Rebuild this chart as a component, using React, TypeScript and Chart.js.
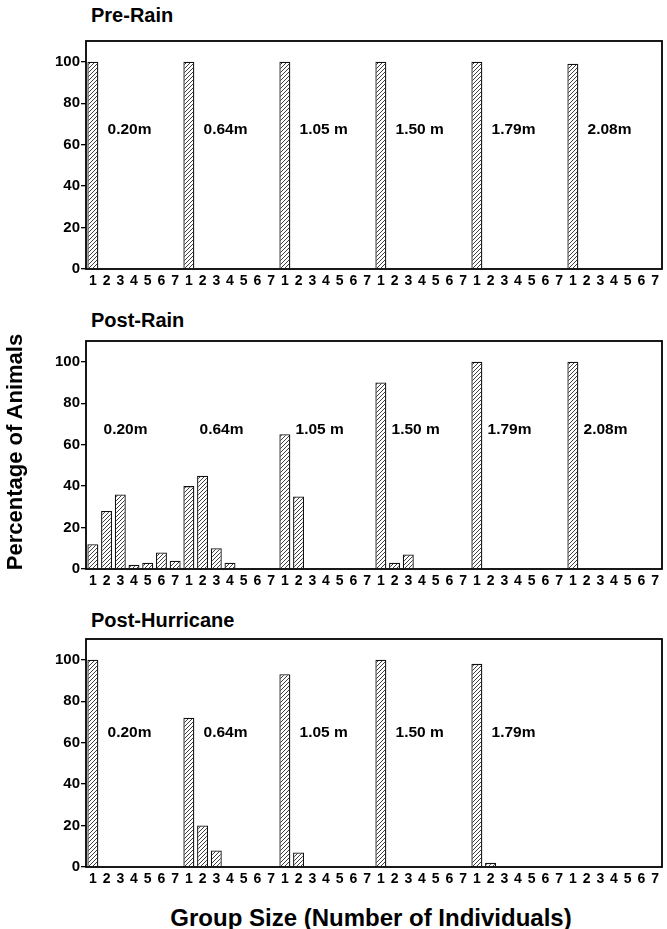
import React, { useEffect, useRef } from "react";
import { Chart, registerables } from "chart.js";

Chart.register(...registerables);

const FONT = '"Liberation Sans", Arial, Helvetica, sans-serif';

// Group sizes (x tick labels), repeated for each depth
const groupSizes = ["1", "2", "3", "4", "5", "6", "7"];
const depths = ["0.20m", "0.64m", "1.05 m", "1.50 m", "1.79m", "2.08m"];
const categories = depths.flatMap(() => groupSizes);
const yTicks = [0, 20, 40, 60, 80, 100];

// Percentage of animals per group size, depth after depth
const preRain = [
  100, 0, 0, 0, 0, 0, 0,
  100, 0, 0, 0, 0, 0, 0,
  100, 0, 0, 0, 0, 0, 0,
  100, 0, 0, 0, 0, 0, 0,
  100, 0, 0, 0, 0, 0, 0,
  99, 0, 0, 0, 0, 0, 0,
];
const postRain = [
  12, 28, 36, 2, 3, 8, 4,
  40, 45, 10, 3, 0, 0, 0,
  65, 35, 0, 0, 0, 0, 0,
  90, 3, 7, 0, 0, 0, 0,
  100, 0, 0, 0, 0, 0, 0,
  100, 0, 0, 0, 0, 0, 0,
];
const postHurricane = [
  100, 0, 0, 0, 0, 0, 0,
  72, 20, 8, 0, 0, 0, 0,
  93, 7, 0, 0, 0, 0, 0,
  100, 0, 0, 0, 0, 0, 0,
  98, 2, 0, 0, 0, 0, 0,
  0, 0, 0, 0, 0, 0, 0,
];

const preRainDepths = depths;
const postRainDepths = depths;
const postHurricaneDepths = ["0.20m", "0.64m", "1.05 m", "1.50 m", "1.79m"];

function makeHatch(ctx: CanvasRenderingContext2D) {
  const c = document.createElement("canvas");
  const p = 4;
  c.width = p;
  c.height = p;
  const g = c.getContext("2d")!;
  g.fillStyle = "#ffffff";
  g.fillRect(0, 0, p, p);
  g.strokeStyle = "#2a2a2a";
  g.lineWidth = 0.9;
  g.beginPath();
  g.moveTo(-1, p + 1);
  g.lineTo(p + 1, -1);
  g.moveTo(-1, 1);
  g.lineTo(1, -1);
  g.moveTo(p - 1, p + 1);
  g.lineTo(p + 1, p - 1);
  g.stroke();
  return ctx.createPattern(c, "repeat")!;
}

const PAD_TOP = 4;
const PLOT_H = 228;
const X_AXIS_H = 26;
const CANVAS_H = PAD_TOP + PLOT_H + X_AXIS_H;

type PanelProps = {
  values: number[];
  depthLabels: string[];
  top: number;
  labelValue: number;
  labelShift: number;
};

function Panel({ values, depthLabels, top, labelValue, labelShift }: PanelProps) {
  const ref = useRef<HTMLCanvasElement>(null);

  useEffect(() => {
    const canvas = ref.current!;
    const ctx = canvas.getContext("2d")!;
    const pattern = makeHatch(ctx);

    const framePlugin = {
      id: "frame",
      afterDraw(chart: any) {
        const { left, right, top: t, bottom } = chart.chartArea;
        const c = chart.ctx;
        c.save();
        c.strokeStyle = "#000";
        c.lineWidth = 1.8;
        c.strokeRect(left, t, right - left, bottom - t);
        c.restore();
      },
    };

    const labelPlugin = {
      id: "depthLabels",
      afterDatasetsDraw(chart: any) {
        const c = chart.ctx;
        const xs = chart.scales.x;
        const ys = chart.scales.y;
        c.save();
        c.fillStyle = "#000";
        c.font = `bold 15.5px ${FONT}`;
        c.textAlign = "left";
        c.textBaseline = "middle";
        depthLabels.forEach((lab, g) => {
          const x = xs.getPixelForValue(g * 7 + 1) + labelShift;
          const y = ys.getPixelForValue(labelValue);
          c.fillText(lab, x, y);
        });
        c.restore();
      },
    };

    const chart = new Chart(ctx, {
      type: "bar",
      data: {
        labels: categories,
        datasets: [
          {
            data: values,
            backgroundColor: pattern,
            borderColor: "#111",
            borderWidth: 1.3,
            borderSkipped: "start",
            barPercentage: 0.8,
            categoryPercentage: 1,
          },
        ],
      },
      options: {
        responsive: false,
        animation: false,
        devicePixelRatio: 1,
        layout: { padding: { top: PAD_TOP, left: 0, right: 5, bottom: 0 } },
        plugins: {
          legend: { display: false },
          tooltip: { enabled: false },
          title: { display: false },
        },
        scales: {
          x: {
            type: "category",
            offset: true,
            grid: { display: false, drawTicks: false, tickLength: 0 },
            border: { display: false },
            ticks: {
              autoSkip: false,
              maxRotation: 0,
              minRotation: 0,
              padding: 4,
              color: "#000",
              font: { family: FONT, size: 14, weight: "bold" },
            },
            afterFit: (s: any) => {
              s.height = X_AXIS_H;
              s.paddingLeft = 0;
              s.paddingRight = 0;
            },
          },
          y: {
            min: 0,
            max: 110,
            afterBuildTicks: (s: any) => {
              s.ticks = yTicks.map((v) => ({ value: v }));
            },
            grid: {
              drawOnChartArea: false,
              drawTicks: true,
              tickLength: 5,
              color: "#000",
              lineWidth: 1.3,
            },
            border: { display: false },
            ticks: {
              padding: 1,
              color: "#000",
              font: { family: FONT, size: 15, weight: "bold" },
            },
            afterFit: (s: any) => {
              s.width = 86;
              s.paddingTop = 0;
              s.paddingBottom = 0;
            },
          },
        },
      } as any,
      plugins: [framePlugin, labelPlugin],
    });
    return () => chart.destroy();
  }, []);

  return (
    <canvas
      ref={ref}
      width={667}
      height={CANVAS_H}
      style={{ position: "absolute", left: 0, top: top - PAD_TOP, width: 667, height: CANVAS_H, display: "block" }}
    />
  );
}

const titleStyle = (y: number, size: number): React.CSSProperties => ({
  position: "absolute",
  left: 91,
  top: y - size * 0.49,
  fontFamily: FONT,
  fontWeight: "bold",
  fontSize: size,
  lineHeight: 1,
  color: "#000",
  whiteSpace: "nowrap",
});

export default function App() {
  return (
    <div
      style={{
        position: "absolute",
        left: 0,
        top: 0,
        width: 667,
        height: 929,
        background: "#fff",
        overflow: "hidden",
      }}
    >
      <div style={titleStyle(15, 20)}>Pre-Rain</div>
      <div style={titleStyle(320, 20)}>Post-Rain</div>
      <div style={titleStyle(620, 20)}>Post-Hurricane</div>

      <Panel values={preRain} depthLabels={preRainDepths} top={41} labelValue={67} labelShift={1} />
      <Panel values={postRain} depthLabels={postRainDepths} top={341} labelValue={67} labelShift={-3} />
      <Panel values={postHurricane} depthLabels={postHurricaneDepths} top={639} labelValue={65} labelShift={1} />

      <div
        style={{
          position: "absolute",
          left: 15,
          top: 452,
          width: 320,
          textAlign: "center",
          fontFamily: FONT,
          fontWeight: "bold",
          fontSize: 22,
          lineHeight: 1,
          color: "#000",
          whiteSpace: "nowrap",
          transform: "translate(-50%, -50%) rotate(-90deg)",
        }}
      >
        Percentage of Animals
      </div>
      <div
        style={{
          position: "absolute",
          left: 371,
          top: 918,
          width: 600,
          textAlign: "center",
          fontFamily: FONT,
          fontWeight: "bold",
          fontSize: 24,
          lineHeight: 1,
          color: "#000",
          whiteSpace: "nowrap",
          transform: "translate(-50%, -50%)",
        }}
      >
        Group Size (Number of Individuals)
      </div>
    </div>
  );
}
